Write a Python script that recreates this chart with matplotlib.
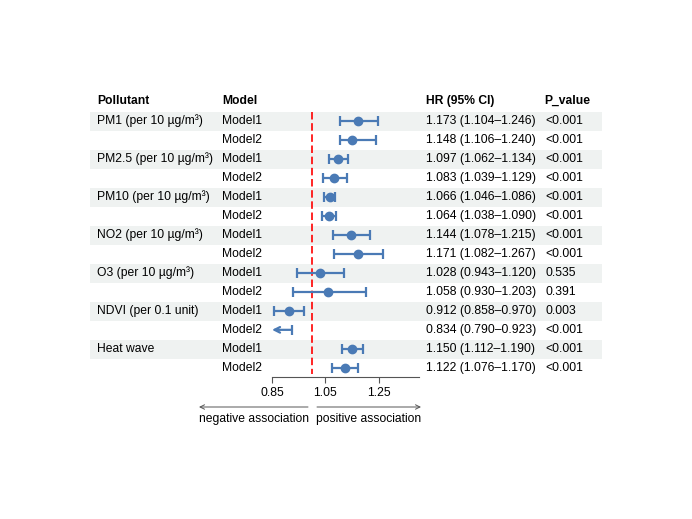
import numpy as np
import matplotlib
matplotlib.use("Agg")
import matplotlib.pyplot as plt

plt.rcParams['font.family'] = ['Liberation Sans', 'DejaVu Sans']

# данные
pollutants = ["PM1 (per 10 µg/m³)", "PM2.5 (per 10 µg/m³)", "PM10 (per 10 µg/m³)",
              "NO2 (per 10 µg/m³)", "O3 (per 10 µg/m³)", "NDVI (per 0.1 unit)", "Heat wave"]
models = ["Model1", "Model2"]
hr = [1.173, 1.148, 1.097, 1.083, 1.066, 1.064, 1.144, 1.171,
      1.028, 1.058, 0.912, 0.834, 1.150, 1.122]
lo = [1.104, 1.106, 1.062, 1.039, 1.046, 1.038, 1.078, 1.082,
      0.943, 0.930, 0.858, 0.790, 1.112, 1.076]
hi = [1.246, 1.240, 1.134, 1.129, 1.086, 1.090, 1.215, 1.267,
      1.120, 1.203, 0.970, 0.923, 1.190, 1.170]
pvals = ["<0.001", "<0.001", "<0.001", "<0.001", "<0.001", "<0.001", "<0.001", "<0.001",
         "0.535", "0.391", "0.003", "<0.001", "<0.001", "<0.001"]
ticks = [0.85, 1.05, 1.25]
xmin, xmax = 0.85, 1.40

W, H = 692, 519
fs = 8.7
blue = "#4a7ab5"
band = "#eff2f1"

fig = plt.figure(figsize=(W / 100, H / 100), dpi=100)

# фон + таблица в пиксельных координатах
bg = fig.add_axes([0, 0, 1, 1])
bg.set_xlim(0, W)
bg.set_ylim(H, 0)
bg.axis('off')

row0, dy = 121, 19
n = len(hr)
for i in range(n):
    y = row0 + dy * i
    if i % 2 == 0:
        bg.fill_between([90, 602], y - dy / 2, y + dy / 2, color=band, lw=0, zorder=0)
        bg.text(97, y, pollutants[i // 2], fontsize=fs, va='center')
    bg.text(222, y, models[i % 2], fontsize=fs, va='center')
    bg.text(426, y, f"{hr[i]:.3f} ({lo[i]:.3f}–{hi[i]:.3f})", fontsize=fs, va='center')
    bg.text(545, y, pvals[i], fontsize=fs, va='center')

hy = 101
bg.text(97, hy, "Pollutant", fontsize=fs, fontweight='bold', va='center')
bg.text(222, hy, "Model", fontsize=fs, fontweight='bold', va='center')
bg.text(426, hy, "HR (95% CI)", fontsize=fs, fontweight='bold', va='center')
bg.text(544, hy, "P_value", fontsize=fs, fontweight='bold', va='center')

# стрелки внизу
arr = dict(arrowstyle='->', color='#555555', lw=0.7, shrinkA=0, shrinkB=0,
           mutation_scale=8)
bg.annotate("", xy=(199, 407), xytext=(308, 407), arrowprops=arr)
bg.annotate("", xy=(421, 407), xytext=(317, 407), arrowprops=arr)
bg.text(254, 419, "negative association", fontsize=fs, ha='center', va='center')
bg.text(369, 419, "positive association", fontsize=fs, ha='center', va='center')

# форест-плот
left, right, top, bottom = 272, 419, 111.5, 377.3
ax = fig.add_axes([left / W, 1 - bottom / H, (right - left) / W, (bottom - top) / H])
ax.patch.set_alpha(0)
ax.set_xlim(xmin, xmax)
ax.set_ylim(13.5, -0.5)

ax.plot([1, 1], [-0.45, 13.3], color='red', lw=1.2, dashes=(4.5, 2.2), zorder=1)

for i in range(n):
    if lo[i] < xmin:
        ax.annotate("", xy=(xmin, i), xytext=(hi[i], i),
                    arrowprops=dict(arrowstyle='->', color=blue, lw=1.6,
                                    shrinkA=0, shrinkB=0, mutation_scale=10))
        ax.plot([hi[i]], [i], marker='|', color=blue, ms=7, mew=1.6)
        if hr[i] >= xmin:
            ax.plot([hr[i]], [i], 'o', color=blue, ms=6)
    else:
        ax.errorbar(hr[i], i, xerr=[[hr[i] - lo[i]], [hi[i] - hr[i]]], fmt='o',
                    color=blue, ms=6, elinewidth=1.6, capsize=3.5, capthick=1.6)

for s in ['top', 'right', 'left']:
    ax.spines[s].set_visible(False)
ax.spines['bottom'].set_color('#555555')
ax.spines['bottom'].set_linewidth(0.8)
ax.set_yticks([])
ax.set_xticks(ticks)
ax.set_xticklabels([f"{t:.2f}" for t in ticks], fontsize=fs)
ax.tick_params(axis='x', length=4, width=0.8, color='#555555', pad=3)

fig.savefig("out.png", dpi=100)
